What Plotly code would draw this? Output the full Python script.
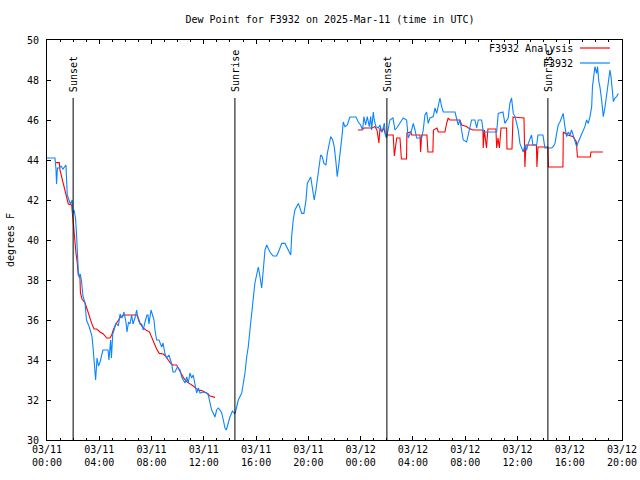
import pandas as pd
import plotly.graph_objects as go

BASE = pd.Timestamp("2025-03-11 00:00")

# Observed dew point (F3932): hours since 2025-03-11 00:00 UTC, degrees F
obs_hours = [0.0, 0.61, 0.69, 0.73, 0.80, 0.92, 1.07, 1.22, 1.45, 1.55, 1.68, 1.80, 1.93, 1.95,
             2.07, 2.18, 2.26, 2.32, 2.39, 2.47, 2.55, 2.65, 2.75, 2.91, 3.02, 3.21, 3.44, 3.54,
             3.63, 3.72, 3.83, 3.94, 4.06, 4.19, 4.28, 4.51, 4.67, 4.74, 4.87, 4.93, 5.03, 5.13,
             5.28, 5.46, 5.59, 5.74, 5.89, 6.04, 6.12, 6.24, 6.35, 6.48, 6.58, 6.73, 6.86, 6.99,
             7.12, 7.25, 7.37, 7.50, 7.65, 7.73, 7.80, 7.96, 8.06, 8.19, 8.26, 8.39, 8.57, 8.78,
             8.88, 9.03, 9.16, 9.33, 9.54, 9.64, 9.79, 9.98, 10.18, 10.31, 10.43, 10.56, 10.69,
             10.81, 10.94, 11.07, 11.19, 11.32, 11.45, 11.58, 11.71, 11.96, 12.22, 12.34, 12.47,
             12.60, 12.72, 12.85, 12.98, 13.11, 13.24, 13.37, 13.49, 13.62, 13.72, 13.87, 14.00,
             14.19, 14.38, 14.51, 14.64, 14.90, 15.02, 15.15, 15.28, 15.40, 15.53, 15.66, 15.78,
             15.91, 16.04, 16.17, 16.30, 16.43, 16.55, 16.68, 16.81, 17.06, 17.31, 17.57, 17.77,
             17.96, 18.21, 18.46, 18.65, 18.72, 18.84, 18.97, 19.23, 19.36, 19.49, 19.66, 19.82,
             19.92, 20.18, 20.33, 20.45, 20.58, 20.71, 20.83, 20.94, 21.06, 21.19, 21.35, 21.45,
             21.58, 21.71, 21.86, 21.98, 22.11, 22.21, 22.34, 22.47, 22.57, 22.67, 22.80, 22.98,
             23.18, 23.64, 23.82, 24.00, 24.15, 24.25, 24.38, 24.51, 24.66, 24.77, 24.84, 24.97,
             25.04, 25.17, 25.35, 25.48, 25.61, 25.73, 25.81, 25.91, 25.99, 26.11, 26.24, 26.47,
             26.63, 26.76, 27.01, 27.26, 27.52, 27.64, 27.90, 28.03, 28.16, 28.29, 28.67, 28.79,
             28.92, 29.05, 29.17, 29.30, 29.56, 29.69, 29.82, 29.94, 30.07, 30.20, 30.32, 31.22,
             31.35, 31.47, 31.60, 31.73, 31.85, 32.11, 32.24, 32.36, 32.49, 32.75, 32.88, 33.00,
             33.26, 33.39, 34.41, 34.53, 34.89, 35.04, 35.29, 35.42, 35.55, 35.68, 35.81, 35.94,
             36.06, 36.19, 36.32, 36.44, 36.57, 36.70, 36.83, 36.95, 37.08, 37.18, 37.47, 37.57,
             37.95, 38.10, 38.62, 38.74, 38.87, 39.00, 39.12, 39.25, 39.38, 39.50, 39.63, 39.76,
             39.89, 40.02, 40.14, 40.27, 40.40, 40.53, 40.65, 40.78, 40.91, 41.04, 41.16, 41.29,
             41.42, 41.55, 41.68, 41.74, 41.80, 41.93, 42.06, 42.13, 42.23, 42.31, 42.44, 42.57,
             42.69, 42.82, 42.95, 43.08, 43.16, 43.26, 43.34, 43.46, 43.59, 43.72]
obs_values = [44.1, 44.1, 43.5, 42.8, 43.6, 43.6, 43.7, 43.55, 43.75, 42.25, 42.0, 41.8, 42.0, 41.3,
              41.5, 41.1, 40.3, 39.0, 38.5, 38.1, 38.3, 37.9, 37.2, 36.85, 36.0, 35.7, 35.2, 34.5,
              33.6, 33.0, 34.1, 33.7, 33.9, 34.35, 34.5, 34.5, 34.5, 34.0, 35.0, 34.1, 35.3, 35.5,
              35.85, 35.7, 36.3, 36.1, 36.4, 35.9, 35.4, 35.9, 35.8, 36.25, 35.8, 36.1, 36.5, 36.0,
              35.8, 35.8, 35.5, 35.9, 36.25, 36.25, 35.8, 36.5, 36.3, 36.0, 35.5, 35.0, 35.0, 34.65,
              34.85, 34.3, 34.1, 34.25, 33.8, 33.4, 33.4, 33.65, 33.5, 33.15, 33.0, 32.85, 33.15,
              32.85, 33.35, 33.1, 33.25, 32.75, 32.35, 32.6, 32.35, 32.4, 32.35, 32.25, 31.85,
              31.5, 31.35, 31.15, 31.5, 31.6, 31.5, 31.35, 31.0, 30.6, 30.5, 30.85, 31.15,
              31.45, 31.3, 31.65, 32.0, 32.35, 32.85, 33.35, 34.15, 34.65, 35.5, 36.35, 37.15,
              37.85, 38.25, 38.65, 38.15, 37.6, 38.5, 39.5, 39.75, 39.4, 39.2, 39.2, 39.5,
              39.83, 39.83, 39.5, 39.25, 40.17, 41.0, 41.5, 41.83, 41.6, 41.33, 41.33, 42.0,
              42.83, 43.15, 42.5, 42.0, 42.5, 43.17, 43.67, 44.25, 44.17, 43.83, 43.75, 44.33,
              44.75, 45.17, 45.0, 44.67, 43.9, 43.17, 43.83, 44.5, 45.17, 45.9, 45.67, 45.75,
              46.15, 46.15, 45.9, 45.75, 45.5, 46.17, 45.75, 46.17, 45.67, 46.17, 45.5, 46.4,
              46.0, 45.67, 45.6, 45.75, 45.4, 45.6, 45.85, 45.2, 45.1, 45.55, 46.0, 46.1,
              45.5, 45.6, 45.83, 46.1, 46.0, 45.1, 45.5, 45.83, 45.5, 45.1, 45.1, 45.5,
              46.25, 46.4, 45.83, 46.1, 46.17, 46.6, 46.33, 46.75, 47.1, 46.67, 46.4, 46.4,
              46.1, 45.75, 46.0, 45.33, 45.0, 44.9, 45.33, 45.67, 46.0, 46.0, 45.6, 46.0,
              46.0, 45.4, 45.4, 46.33, 46.4, 45.83, 46.1, 46.83, 47.1, 46.33, 46.17, 45.83,
              45.5, 44.83, 44.6, 44.4, 44.75, 44.5, 44.83, 45.0, 45.25, 44.75, 44.75, 45.25,
              45.25, 44.6, 44.6, 44.67, 44.83, 45.33, 45.75, 45.9, 46.17, 46.33, 45.67, 45.17,
              45.4, 45.25, 45.5, 45.25, 45.0, 44.67, 44.9, 45.1, 45.33, 45.5, 45.67, 46.0,
              45.83, 46.17, 46.67, 47.67, 48.0, 48.67, 48.33, 48.67, 47.9, 47.67, 47.0, 46.17,
              46.6, 47.17, 47.83, 48.5, 48.17, 47.5, 46.92, 47.1, 47.17, 47.33]

# Analysis (F3932 Analysis), two separate runs
ana1_hours = [0.69, 0.94, 0.99, 1.12, 1.25, 1.38, 1.51, 1.63, 1.89, 1.97, 2.07, 2.14, 2.22, 2.32,
              2.39, 2.52, 2.56, 2.68, 2.91, 3.04, 3.16, 3.29, 3.42, 3.60, 3.80, 4.06, 4.31, 4.57,
              4.82, 4.95, 5.07, 5.28, 5.46, 5.64, 5.97, 6.86, 6.99, 7.12, 7.37, 7.63, 7.83, 8.01,
              8.13, 8.26, 8.39, 8.59, 8.90, 9.10, 9.28, 9.46, 9.62, 9.92, 10.12, 10.31, 10.48,
              10.69, 10.94, 11.19, 11.40, 11.58, 11.84, 12.09, 12.34, 12.47, 12.85]
ana1_values = [43.87, 43.87, 43.5, 43.17, 42.75, 42.4, 42.1, 41.8, 41.75, 41.1, 40.17, 39.83, 39.33,
               38.83, 38.25, 38.15, 37.35, 37.05, 36.85, 36.6, 36.33, 36.1, 35.83, 35.55, 35.55,
               35.4, 35.3, 35.1, 35.1, 35.25, 35.5, 35.8, 36.0, 36.17, 36.25, 36.25, 36.1, 35.83,
               35.6, 35.47, 35.42, 35.17, 34.92, 34.75, 34.55, 34.33, 34.3, 34.17, 34.0, 33.83,
               33.75, 33.75, 33.5, 33.25, 33.08, 32.92, 32.83, 32.7, 32.58, 32.5, 32.47, 32.37,
               32.3, 32.2, 32.13]
ana2_hours = [23.79, 24.10, 24.25, 24.86, 25.09, 25.25, 25.40, 25.48, 25.63, 25.78, 25.90, 26.49,
              26.58, 26.66, 26.76, 27.01, 27.12, 27.51, 27.54, 27.85, 27.90, 28.54, 28.59, 28.67,
              29.07, 29.15, 29.53, 29.57, 29.84, 29.94, 30.45, 30.58, 30.70, 30.83, 31.60, 31.73,
              32.11, 32.24, 32.59, 33.36, 33.38, 33.47, 33.63, 33.74, 34.35, 34.41, 34.51, 34.62,
              34.74, 35.17, 35.20, 35.58, 35.66, 36.50, 36.57, 36.65, 37.45, 37.49, 37.57, 38.33,
              38.37, 39.48, 39.51, 39.76, 39.86, 40.27, 40.51, 40.59, 41.58, 41.62, 42.54]
ana2_values = [45.5, 45.5, 45.6, 45.6, 45.67, 45.5, 44.85, 45.6, 45.4, 45.6, 45.25, 45.25,
               44.2, 44.6, 45.1, 45.1, 44.05, 44.05, 45.35, 45.4, 45.25, 45.25, 44.4, 45.25,
               45.25, 44.4, 44.4, 45.5, 45.6, 45.4, 45.4, 45.83, 46.1, 46.0, 46.0, 45.75,
               45.67, 45.6, 45.5, 45.5, 44.6, 45.5, 44.6, 45.55, 45.55, 44.6, 45.1, 44.6,
               45.6, 45.6, 44.55, 44.55, 46.15, 46.1, 43.65, 44.75, 44.75, 43.65, 44.65, 44.65,
               43.65, 43.65, 45.4, 45.3, 45.25, 45.17, 44.9, 44.15, 44.15, 44.4, 44.4]

# Sun events (hours since start) and labels
sun_hours = [2.0, 14.38, 26.01, 38.33]
sun_labels = ["Sunset", "Sunrise", "Sunset", "Sunrise"]

tick_hours = [0, 4, 8, 12, 16, 20, 24, 28, 32, 36, 40, 44]
tick_labels = ["03/11<br>00:00", "03/11<br>04:00", "03/11<br>08:00", "03/11<br>12:00",
               "03/11<br>16:00", "03/11<br>20:00", "03/12<br>00:00", "03/12<br>04:00",
               "03/12<br>08:00", "03/12<br>12:00", "03/12<br>16:00", "03/12<br>20:00"]


def to_time(hours):
    return [BASE + pd.Timedelta(hours=h) for h in hours]


RED = "#ff0000"
BLUE = "#0a84ff"
FONT = "DejaVu Sans Mono"

W, H = 640, 480

fig = go.Figure()
fig.add_trace(go.Scatter(x=to_time(ana1_hours), y=ana1_values, mode="lines",
                         line=dict(color=RED, width=1.1), name="F3932 Analysis", showlegend=False))
fig.add_trace(go.Scatter(x=to_time(ana2_hours), y=ana2_values, mode="lines",
                         line=dict(color=RED, width=1.1), name="F3932 Analysis", showlegend=False))
fig.add_trace(go.Scatter(x=to_time(obs_hours), y=obs_values, mode="lines",
                         line=dict(color=BLUE, width=1.1), name="F3932", showlegend=False))

for h, lab in zip(sun_hours, sun_labels):
    t = BASE + pd.Timedelta(hours=h)
    fig.add_shape(type="line", xref="x", yref="y", x0=t, x1=t, y0=30, y1=47.1,
                  line=dict(color="black", width=1))
    fig.add_annotation(x=t, y=47.3, xref="x", yref="y", text=lab, textangle=-90,
                       showarrow=False, xanchor="center", yanchor="bottom",
                       font=dict(family=FONT, size=10, color="black"))

# legend (gnuplot style: text then sample on the right)
legend_items = [("F3932 Analysis", RED, 0.98), ("F3932", BLUE, 0.9425)]
for txt, col, yy in legend_items:
    fig.add_annotation(x=0.918, y=yy, xref="paper", yref="paper", text=txt, showarrow=False,
                       xanchor="right", yanchor="middle", font=dict(family=FONT, size=10, color="black"))
    fig.add_shape(type="line", xref="paper", yref="paper", x0=0.927, x1=0.979, y0=yy, y1=yy,
                  line=dict(color=col, width=1.2))

fig.update_layout(
    width=W, height=H,
    margin=dict(l=47, r=18, t=40, b=40, autoexpand=False),
    paper_bgcolor="white", plot_bgcolor="white",
    font=dict(family=FONT, size=10, color="black"),
    title=dict(text="Dew Point for F3932 on 2025-Mar-11 (time in UTC)", x=330 / W,
               xanchor="center", y=1 - 19 / H, yanchor="middle", yref="container",
               font=dict(family=FONT, size=10)),
    showlegend=False,
)
fig.update_xaxes(
    type="date", range=[BASE, BASE + pd.Timedelta(hours=44)],
    tickvals=to_time(tick_hours), ticktext=tick_labels,
    ticks="inside", ticklen=4, tickcolor="black", tickwidth=1,
    minor=dict(ticks="inside", ticklen=2, dtick=3600000, tickcolor="black", tickwidth=1),
    showline=True, linecolor="black", linewidth=1, mirror="ticks",
    showgrid=False, zeroline=False, tickfont=dict(family=FONT, size=10),
)
fig.update_yaxes(
    range=[30, 50], dtick=2, ticks="inside", ticklen=4, tickcolor="black", tickwidth=1,
    showline=True, linecolor="black", linewidth=1, mirror="ticks",
    showgrid=False, zeroline=False, tickfont=dict(family=FONT, size=10),
    ticklabelstandoff=5,
    title=dict(text="degrees F", standoff=10, font=dict(family=FONT, size=10)),
)

# remove the browser's default 8px page margin so the 640x480 figure fills the window
fig.write_html("out.html", config={"displayModeBar": False},
               post_script="document.body.style.margin='0';document.body.style.overflow='hidden';")
